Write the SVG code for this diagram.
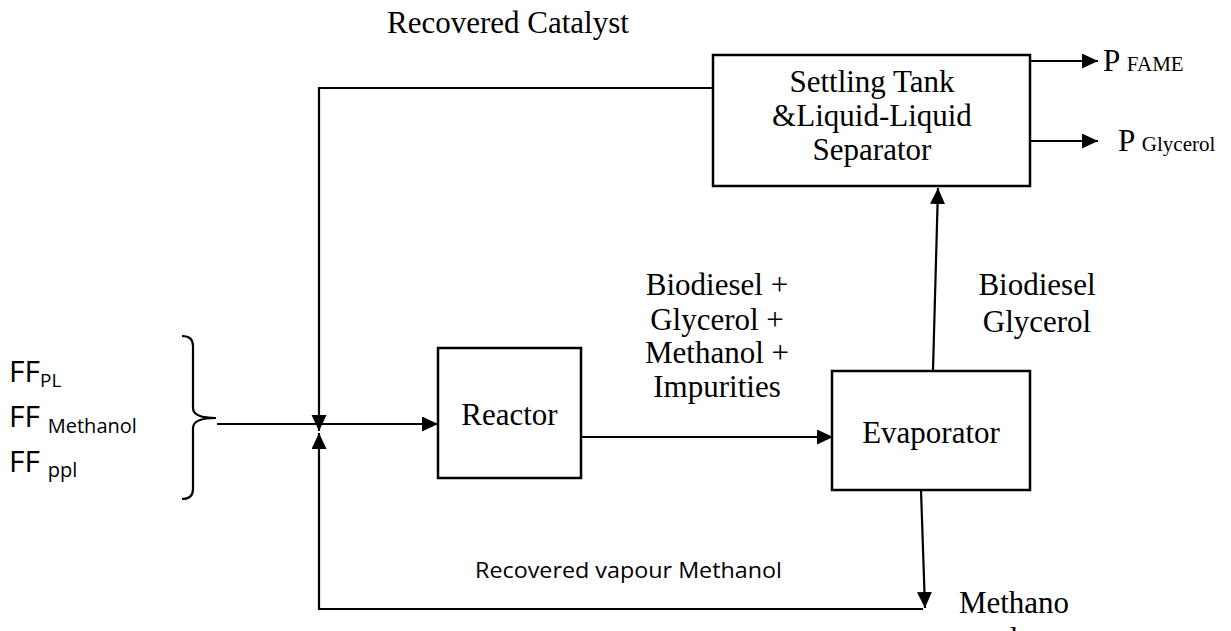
<svg xmlns="http://www.w3.org/2000/svg" width="1231" height="631" viewBox="0 0 1231 631">
<style>
.box{fill:#fff;stroke:#000;stroke-width:2.5}
.ln{fill:none;stroke:#000;stroke-width:2.2}
.t{font-family:"Liberation Serif","Times New Roman",serif;font-size:31px;fill:#000}
.ts{font-family:"Liberation Serif","Times New Roman",serif;font-size:21px;fill:#000}
.s{font-family:"Open Sans","Liberation Sans",sans-serif;fill:#000}
</style>
<defs>
<marker id="ah" markerUnits="userSpaceOnUse" markerWidth="16" markerHeight="16" refX="16" refY="7.5" orient="auto">
<path d="M0,0 L16,7.5 L0,15 z" fill="#000"/>
</marker>
</defs>
<g id="connectors">
<path class="ln" d="M713,88 L319,88 L319,431" marker-end="url(#ah)"/>
<path class="ln" d="M923,609 L319,609 L319,433" marker-end="url(#ah)"/>
<path class="ln" d="M217,424 L438,424" marker-end="url(#ah)"/>
<path class="ln" d="M581,437 L833,437" marker-end="url(#ah)"/>
<path class="ln" d="M933,370 L938,188" marker-end="url(#ah)"/>
<path class="ln" d="M921,490 L925,608" marker-end="url(#ah)"/>
<path class="ln" d="M1030,61 L1098,61" marker-end="url(#ah)"/>
<path class="ln" d="M1030,141 L1098,141" marker-end="url(#ah)"/>
<path class="ln" d="M182,336 Q193,336 193,346 L193,408 Q193,418 216,418 Q193,418 193,428 L193,489 Q193,499 182,499"/>
</g>
<g id="settling">
<rect class="box" x="713" y="55" width="317" height="131"/>
<text class="t" x="872" y="92" text-anchor="middle">Settling Tank</text>
<text class="t" x="872" y="126" text-anchor="middle">&amp;Liquid-Liquid</text>
<text class="t" x="872" y="160" text-anchor="middle">Separator</text>
</g>
<g id="reactor">
<rect class="box" x="438" y="348" width="143" height="130"/>
<text class="t" x="509.5" y="425" text-anchor="middle">Reactor</text>
</g>
<g id="evaporator">
<rect class="box" x="832" y="371" width="198" height="119"/>
<text class="t" x="931" y="443" text-anchor="middle">Evaporator</text>
</g>
<g id="labels">
<text class="t" x="387" y="33">Recovered Catalyst</text>
<text class="t" x="1103" y="71">P <tspan class="ts">FAME</tspan></text>
<text class="t" x="1118" y="151">P <tspan class="ts">Glycerol</tspan></text>
<text class="t" x="1037" y="295" text-anchor="middle">Biodiesel</text>
<text class="t" x="1037" y="332" text-anchor="middle">Glycerol</text>
<text class="t" x="717" y="295" text-anchor="middle">Biodiesel +</text>
<text class="t" x="717" y="330" text-anchor="middle">Glycerol +</text>
<text class="t" x="717" y="363" text-anchor="middle">Methanol +</text>
<text class="t" x="717" y="397" text-anchor="middle">Impurities</text>
<text class="s" x="475" y="578" font-size="21" textLength="307" lengthAdjust="spacingAndGlyphs">Recovered vapour Methanol</text>
<text class="t" x="1014" y="613" text-anchor="middle">Methano</text>
<text class="t" x="1014" y="649" text-anchor="middle">l</text>
<text class="s" x="9" y="382" font-size="30">FF<tspan font-size="19" dy="5">PL</tspan></text>
<text class="s" x="9" y="427" font-size="30">FF <tspan font-size="20" dy="6">Methanol</tspan></text>
<text class="s" x="9" y="472" font-size="30">FF <tspan font-size="20" dy="5">ppl</tspan></text>
</g>
</svg>
